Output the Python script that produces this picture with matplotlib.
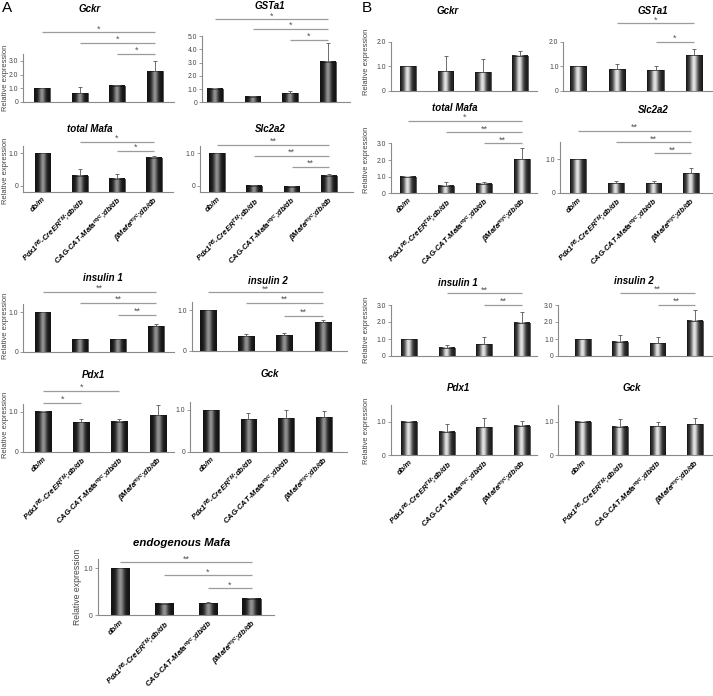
import numpy as np
import matplotlib
matplotlib.use('Agg')
import matplotlib.pyplot as plt

plt.rcParams['font.family'] = ['Liberation Sans', 'DejaVu Sans']
plt.rcParams['mathtext.fontset'] = 'custom'
plt.rcParams['mathtext.it'] = 'Liberation Sans:italic:bold'
plt.rcParams['mathtext.rm'] = 'Liberation Sans:italic:bold'
plt.rcParams['mathtext.bf'] = 'Liberation Sans:italic:bold'

W, H = 713, 696

groups = ['db/m', 'Pdx1$^{PB}$-CreER$^{TM}$;db/db',
          'CAG-CAT-Mafa$^{myc}$;db/db', 'βMafa$^{myc}$;db/db']

# ---- panel A (values relative to db/m) ----
a_gckr = [1.0, 0.63, 1.17, 2.26]
a_gckr_err = [0.0, 0.48, 0.05, 0.70]
a_gckr_sig = [(0, 3, 5.1, '*'), (1, 3, 4.3, '*'), (2, 3, 3.5, '*')]

a_gsta1 = [1.0, 0.43, 0.68, 3.07]
a_gsta1_err = [0.0, 0.03, 0.18, 1.40]
a_gsta1_sig = [(0, 3, 6.3, '*'), (1, 3, 5.55, '*'), (2, 3, 4.72, '*')]

a_tmafa = [1.0, 0.31, 0.21, 0.86]
a_tmafa_err = [0.0, 0.21, 0.14, 0.06]
a_tmafa_sig = [(1, 3, 1.36, '*'), (2, 3, 1.08, '*')]

a_slc2a2 = [1.0, 0.0, -0.03, 0.30]
a_slc2a2_err = [0.0, 0.02, 0.03, 0.05]
a_slc2a2_sig = [(0, 3, 1.26, '**'), (1, 3, 0.92, '**'), (2, 3, 0.59, '**')]

a_ins1 = [1.0, 0.31, 0.31, 0.65]
a_ins1_err = [0.0, 0.02, 0.02, 0.06]
a_ins1_sig = [(0, 3, 1.52, '**'), (1, 3, 1.24, '**'), (2, 3, 0.93, '**')]

a_ins2 = [1.0, 0.36, 0.38, 0.70]
a_ins2_err = [0.0, 0.05, 0.06, 0.05]
a_ins2_sig = [(0, 3, 1.43, '**'), (1, 3, 1.18, '**'), (2, 3, 0.86, '**')]

a_pdx1 = [1.0, 0.73, 0.75, 0.92]
a_pdx1_err = [0.0, 0.08, 0.06, 0.25]
a_pdx1_sig = [(0, 2, 1.52, '*'), (0, 1, 1.22, '*')]

a_gck = [1.0, 0.78, 0.80, 0.83]
a_gck_err = [0.0, 0.14, 0.20, 0.14]

a_emafa = [1.0, 0.24, 0.25, 0.35]
a_emafa_err = [0.0, 0.02, 0.03, 0.02]
a_emafa_sig = [(0, 3, 1.13, '**'), (1, 3, 0.85, '*'), (2, 3, 0.57, '*')]

# ---- panel B ----
b_gckr = [1.0, 0.80, 0.76, 1.43]
b_gckr_err = [0.0, 0.62, 0.52, 0.17]

b_gsta1 = [1.0, 0.88, 0.85, 1.46]
b_gsta1_err = [0.0, 0.19, 0.15, 0.23]
b_gsta1_sig = [(1, 3, 2.75, '*'), (2, 3, 2.0, '*')]

b_tmafa = [1.0, 0.46, 0.56, 2.04]
b_tmafa_err = [0.0, 0.20, 0.12, 0.70]
b_tmafa_sig = [(0, 3, 4.37, '*'), (1, 3, 3.67, '**'), (2, 3, 3.0, '**')]

b_slc2a2 = [1.0, 0.28, 0.28, 0.58]
b_slc2a2_err = [0.0, 0.06, 0.08, 0.14]
b_slc2a2_sig = [(0, 3, 1.83, '**'), (1, 3, 1.50, '**'), (2, 3, 1.17, '**')]

b_ins1 = [1.0, 0.49, 0.69, 1.96]
b_ins1_err = [0.0, 0.18, 0.42, 0.60]
b_ins1_sig = [(1, 3, 3.69, '**'), (2, 3, 3.0, '**')]

b_ins2 = [1.0, 0.84, 0.75, 2.08]
b_ins2_err = [0.0, 0.40, 0.39, 0.60]
b_ins2_sig = [(1, 3, 3.72, '**'), (2, 3, 3.0, '**')]

b_pdx1 = [1.0, 0.70, 0.83, 0.88]
b_pdx1_err = [0.0, 0.22, 0.27, 0.14]

b_gck = [1.0, 0.85, 0.87, 0.92]
b_gck_err = [0.0, 0.23, 0.11, 0.18]

fig = plt.figure(figsize=(W / 100, H / 100), dpi=100)

u = np.linspace(0, 1, 64)
shade_dark = (0.08 + 0.5 * np.exp(-((u - 0.5) / 0.2) ** 2))[None, :]
shade_light = (0.12 + 0.78 * np.exp(-((u - 0.47) / 0.22) ** 2))[None, :]

GRAY = '#8a8a8a'


def panel(vals, errs, sigs, title, lay, light=False):
    # lay: spine x, x-axis end, first bar px, bar step px, px of 0, px per unit,
    #      axis min, spine top, ticks, title xy, ylabel xy, show x labels
    sx, xe, c0, dx, zp, sc, ymin, stop, ticks, txy, yl, xlab = lay
    top_val = max([stop] + [s[2] + 9 / sc for s in sigs])
    base_px = zp - ymin * sc
    top_px = zp - top_val * sc
    ax = fig.add_axes([sx / W, 1 - base_px / H, (xe - sx) / W, (base_px - top_px) / H])
    ax.patch.set_alpha(0)
    x = np.arange(len(vals))
    vals = np.array(vals)
    bars = ax.bar(x, vals - ymin, bottom=ymin, width=0.42, color='none',
                  edgecolor='#151515', linewidth=0.5, zorder=3)
    shade = shade_light if light else shade_dark
    for b in bars:
        x0, y0 = b.get_xy()
        ax.imshow(shade, extent=(x0, x0 + b.get_width(), y0, y0 + b.get_height()),
                  aspect='auto', cmap='gray', vmin=0, vmax=1,
                  interpolation='bicubic', zorder=2)
    ax.errorbar(x, vals, yerr=[np.zeros(len(vals)), errs], fmt='none',
                ecolor='#555555', elinewidth=0.6, capsize=1.3, capthick=0.6, zorder=4)
    for i, j, y, lab in sigs:
        ax.plot([i, j], [y, y], color='#9c9c9c', lw=0.9, solid_capstyle='butt')
        ax.annotate(lab, ((i + j) / 2, y), xytext=(0, -0.8), textcoords='offset points',
                    ha='center', va='bottom', fontsize=6.5, color='#555555')
    ax.set_xlim((sx - c0) / dx, (xe - c0) / dx)
    ax.set_ylim(ymin, top_val)
    for s in ['top', 'right']:
        ax.spines[s].set_visible(False)
    for s in ['left', 'bottom']:
        ax.spines[s].set_color(GRAY)
        ax.spines[s].set_linewidth(0.8)
    ax.spines['left'].set_bounds(ymin, stop)
    ax.set_yticks(ticks)
    ax.set_yticklabels(['0' if t == 0 else f'{t:.1f}' for t in ticks])
    ax.tick_params(axis='y', length=2, width=0.6, color=GRAY, labelsize=4.9,
                   labelcolor='#444444', pad=1.5)
    ax.set_xticks(x)
    if xlab:
        ax.set_xticklabels(groups, rotation=45, ha='right', rotation_mode='anchor',
                           fontsize=5.5, fontweight='bold', fontstyle='italic')
    else:
        ax.set_xticklabels([])
    ax.tick_params(axis='x', length=0, pad=2.5)
    fs = 8.2 if title.startswith('endo') else 7
    fig.text(txy[0] / W, 1 - txy[1] / H, title, ha='center', va='center',
             fontsize=fs, fontweight='bold', fontstyle='italic')
    if yl is not None:
        fig.text(yl[0] / W, 1 - yl[1] / H, 'Relative expression', rotation=90,
                 ha='center', va='center', fontsize=5.4 if yl[0] < 50 or yl[0] > 300 else 6.2,
                 color='#444444')
    return ax


T1 = [0, 1.0]
# A
panel(a_gckr, a_gckr_err, a_gckr_sig, 'Gckr',
      (23, 174, 42, 37.7, 102, 13.7, 0, 3.5, [0, 1.0, 2.0, 3.0], (90, 9), (6, 78), False))
panel(a_gsta1, a_gsta1_err, a_gsta1_sig, 'GSTa1',
      (202, 350, 215, 37.6, 102.3, 13.2, 0, 5.0, [0, 1.0, 2.0, 3.0, 4.0, 5.0], (270, 6), None, False))
panel(a_tmafa, a_tmafa_err, a_tmafa_sig, 'total Mafa',
      (23, 173, 42.5, 37.2, 185.7, 32.4, -0.2, 1.23, T1, (90, 129), (6, 171), True))
panel(a_slc2a2, a_slc2a2_err, a_slc2a2_sig, 'Slc2a2',
      (200, 353, 216.8, 37.4, 185.7, 32.4, -0.2, 1.23, T1, (270, 129), None, True))
panel(a_ins1, a_ins1_err, a_ins1_sig, 'insulin 1',
      (23, 174, 42.5, 37.8, 351.7, 39.4, 0, 1.2, T1, (103, 278), (6, 326), False))
panel(a_ins2, a_ins2_err, a_ins2_sig, 'insulin 2',
      (191.7, 347, 208, 38.2, 350.7, 40.7, 0, 1.2, T1, (268, 281), None, False))
panel(a_pdx1, a_pdx1_err, a_pdx1_sig, 'Pdx1',
      (23, 174, 43, 38.2, 451.7, 40.0, 0, 1.2, T1, (93, 375), (6, 425), True))
panel(a_gck, a_gck_err, [], 'Gck',
      (190, 347, 210.7, 37.8, 451.7, 41.7, 0, 1.2, T1, (270, 374), None, True))
panel(a_emafa, a_emafa_err, a_emafa_sig, 'endogenous Mafa',
      (97.7, 274, 120, 43.9, 615, 46.7, 0, 1.2, T1, (181.7, 542.7), (77, 587), True))

# B
panel(b_gckr, b_gckr_err, [], 'Gckr',
      (390.7, 536.7, 408.3, 37.3, 90.7, 24.5, 0, 2.0, [0, 1.0, 2.0], (448, 11), (367, 62), False), True)
panel(b_gsta1, b_gsta1_err, b_gsta1_sig, 'GSTa1',
      (563.3, 713, 578.3, 38.6, 90.7, 24.5, 0, 2.0, [0, 1.0, 2.0], (653, 11), None, False), True)
panel(b_tmafa, b_tmafa_err, b_tmafa_sig, 'total Mafa',
      (390.7, 537, 408.3, 37.8, 193.3, 16.6, 0, 3.0, [0, 1.0, 2.0, 3.0], (455, 108), (367, 160), True), True)
panel(b_slc2a2, b_slc2a2_err, b_slc2a2_sig, 'Slc2a2',
      (560, 713, 578.3, 37.6, 192.7, 33.7, 0, 1.5, T1, (653, 110), None, True), True)
panel(b_ins1, b_ins1_err, b_ins1_sig, 'insulin 1',
      (390.7, 537, 409.3, 37.5, 356, 17.0, 0, 3.0, [0, 1.0, 2.0, 3.0], (458, 283), (367, 330), False), True)
panel(b_ins2, b_ins2_err, b_ins2_sig, 'insulin 2',
      (558.3, 713, 582.7, 37.4, 356, 17.0, 0, 3.0, [0, 1.0, 2.0, 3.0], (634, 281), None, False), True)
panel(b_pdx1, b_pdx1_err, [], 'Pdx1',
      (390.7, 537, 409.3, 37.5, 455, 33.3, 0, 1.5, T1, (458, 388), (367, 431), True), True)
panel(b_gck, b_gck_err, [], 'Gck',
      (558.3, 713, 582.7, 37.4, 455, 33.3, 0, 1.5, T1, (632, 388), None, True), True)

fig.text(2 / W, 1 - 8 / H, 'A', fontsize=11, ha='left', va='center')
fig.text(362 / W, 1 - 8 / H, 'B', fontsize=11, ha='left', va='center')

fig.savefig('out.png', dpi=100)
